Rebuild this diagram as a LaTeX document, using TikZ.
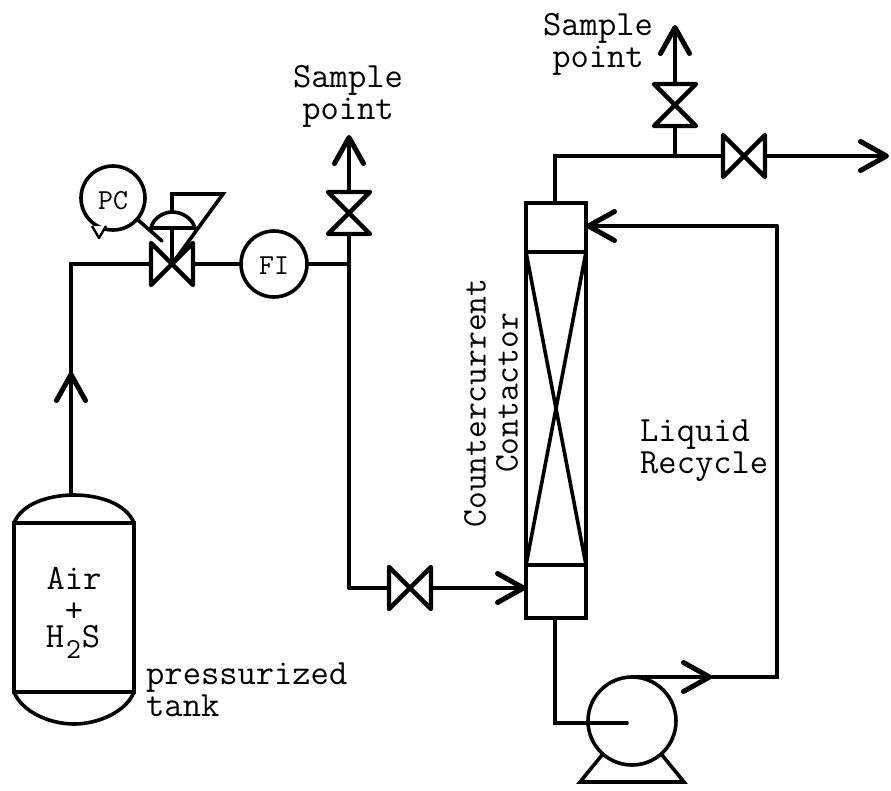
\documentclass[tikz,border=0pt]{standalone}
\usepackage{tikz}
\usetikzlibrary{arrows.meta,calc}
\newcommand{\hvalve}[2]{%
  \node[valvebox] (#1) at (#2) {};
  \draw[pipe,line width=4.4pt,line join=round] (#1.north west) -- (#1.south east) -- (#1.north east) -- (#1.south west) -- cycle;}
\newcommand{\vvalve}[2]{%
  \node[valvebox] (#1) at (#2) {};
  \draw[pipe,line width=4.4pt,line join=round] (#1.north west) -- (#1.north east) -- (#1.south west) -- (#1.south east) -- cycle;}
\begin{document}
\begin{tikzpicture}[x=1pt,y=-1pt,
    pipe/.style={line width=3.6pt,line cap=round},
    flow/.style={-{Straight Barb[length=26pt,width=29pt,line width=5pt,round]}},
    valvebox/.style={inner sep=0pt,outer sep=0pt,minimum width=42pt,minimum height=42pt},
    instr/.style={circle,draw,line width=3.6pt,inner sep=0pt,outer sep=0pt,minimum size=64pt},
    vessel/.style={draw,line width=3.6pt,inner sep=0pt,outer sep=0pt,minimum width=60pt},
    label/.style={inner sep=0pt,font=\fontsize{35.5}{32}\selectfont\ttfamily},
    tag/.style={inner sep=0pt,font=\fontsize{29}{29}\selectfont\ttfamily}]
  \useasboundingbox (0,0) rectangle (891,790);

  % tank
  \node[vessel,minimum width=120pt,minimum height=169pt] (tank) at (74,607.5) {};
  \draw[pipe] (tank.north west) .. controls (22,503) and (50,495) .. (74,495)
    .. controls (98,495) and (126,503) .. (tank.north east);
  \draw[pipe] (tank.south west) .. controls (22,712) and (50,724) .. (74,724)
    .. controls (98,724) and (126,712) .. (tank.south east);
  \coordinate (tankTop) at (71,495);
  \coordinate (tankTip) at (71,372);
  \coordinate (tankCorner) at (71,264);
  \node[label] (air) at (74,578) {Air};
  \node[label] (plus) at (74,612) {+};
  \node[label] (hts) at (73,642) {H\kern2pt\raisebox{-11pt}{\fontsize{29}{29}\selectfont 2}\kern1pt S};
  \node[label,anchor=west,align=left] (tankLabel) at (146,690) {pressurized\\tank};

  % control valve and FI
  \hvalve{valveA}{172,264}
  \node[instr] (pc) at (113,198) {};
  \node[tag] (pcLabel) at (113,201) {PC};
  \node[instr,minimum size=66pt] (fi) at (274,264) {};
  \node[tag] (fiLabel) at (274,266) {FI};
  \draw[line width=2.4pt,fill=white,line join=round] (92,226) -- (99,238) -- (106,226);
  \coordinate (pcArm) at (162,241);
  \draw[pipe] (pc) -- (pcArm);
  \coordinate (stemTop) at (172,194);
  \coordinate (stemFlag) at (223,194);
  \draw[pipe,line join=miter] (valveA.center) -- (stemTop) -- (stemFlag) -- (valveA.center);
  \draw[pipe,fill=white] (151,228) .. controls (153,218) and (164,212) .. (172,212)
    .. controls (182,212) and (192,218) .. (195,228) -- cycle;

  \draw[pipe,flow] (tankTop) -- (tankTip);
  \draw[pipe] (tankTip) -- (tankCorner) -- (valveA.west);
  \draw[pipe] (valveA.east) -- (fi.west);

  % first sample line
  \vvalve{valveB}{349,213}
  \coordinate (teeA) at (349,264);
  \coordinate (tipB) at (349,135);
  \coordinate (cornerB) at (349,588);
  \draw[pipe] (fi.east) -- (teeA);
  \draw[pipe] (valveB.south) -- (cornerB);
  \draw[pipe,flow] (valveB.north) -- (tipB);
  \node[label,align=center] (sampleA) at (348,96) {Sample\\point};

  % feed to contactor
  \hvalve{valveC}{410,588}
  \draw[pipe] (cornerB) -- (valveC.west);

  % contactor
  \node[vessel,minimum height=49pt] (contactorTop) at (556,227.5) {};
  \node[vessel,minimum height=53pt] (contactorBot) at (556,591.5) {};
  \node[vessel,minimum height=313pt] (packing) at (556,408.5) {};
  \draw[pipe] (packing.north west) -- (packing.south east);
  \draw[pipe] (packing.north east) -- (packing.south west);
  \draw[pipe,flow] (valveC.east) -- (valveC.east -| contactorBot.west);
  \node[label,rotate=90,font=\fontsize{34.5}{32}\selectfont\ttfamily] (counterLabel) at (475,403) {Countercurrent};
  \node[label,rotate=90,font=\fontsize{34.5}{32}\selectfont\ttfamily] (contactLabel) at (507,393) {Contactor};

  % overhead
  \coordinate (overheadCorner) at (555,156);
  \coordinate (teeB) at (675,156);
  \coordinate (outTip) at (889,156);
  \coordinate (tipD) at (675,25);
  \hvalve{valveD}{744,156}
  \vvalve{valveE}{675,105}
  \draw[pipe] (overheadCorner |- contactorTop.north) -- (overheadCorner) -- (valveD.west);
  \draw[pipe] (teeB) -- (valveE.south);
  \draw[pipe,flow] (valveD.east) -- (outTip);
  \draw[pipe,flow] (valveE.north) -- (tipD);
  \node[label,align=center] (sampleB) at (598,44) {Sample\\point};

  % pump and recycle
  \node[instr,minimum size=88pt] (pump) at (632,721) {};
  \coordinate (feetL) at (580,782);
  \coordinate (feetR) at (684,782);
  \draw[pipe,line join=miter] (602,755) -- (feetL) -- (feetR) -- (662,755);
  \coordinate (inletCorner) at (555,723);
  \coordinate (inletEnd) at (627,723);
  \draw[pipe] (contactorBot.south -| inletCorner) -- (inletCorner) -- (inletEnd);
  \coordinate (recycleTip) at (712,677);
  \coordinate (recycleCorner) at (777,677);
  \coordinate (recycleTop) at (777,226);
  \draw[pipe,flow] (pump.north) -- (recycleTip);
  \draw[pipe] (recycleTip) -- (recycleCorner) -- (recycleTop);
  \draw[pipe,flow] (recycleTop) -- (contactorTop.east |- recycleTop);
  \node[label,anchor=west,align=left] (recycleLabel) at (640,451) {Liquid\\Recycle};
\end{tikzpicture}
\end{document}
